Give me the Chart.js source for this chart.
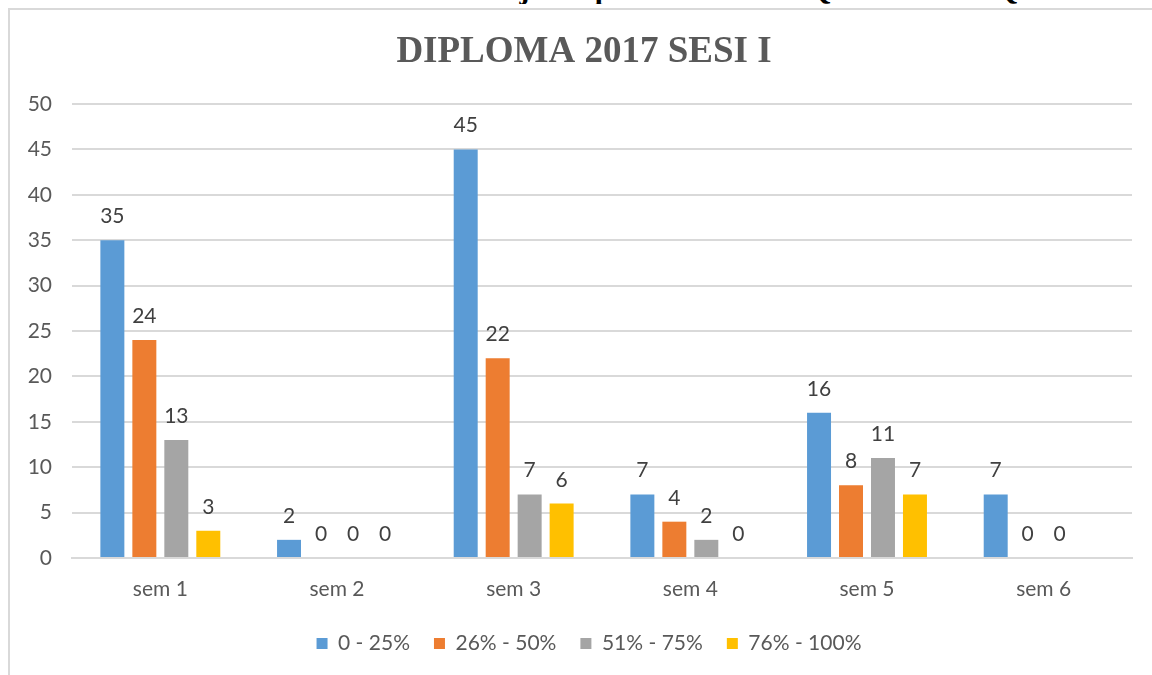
<!DOCTYPE html>
<html>
<head>
<meta charset="utf-8">
<script src="https://cdn.jsdelivr.net/npm/chart.js@4/dist/chart.umd.min.js"></script>
<style>
  html, body { margin:0; padding:0; background:#fff; width:1152px; height:675px; overflow:hidden; }
  #head { position:absolute; left:0; top:0; width:1152px; height:4px; overflow:hidden; }
  #head span { position:absolute; left:100px; top:-28px; white-space:nowrap; font:bold 30px "Liberation Serif", serif; color:#000; }
  #frame { position:absolute; left:8px; top:8px; width:1160px; height:700px; border:2px solid #d9d9d9; box-sizing:border-box; }
  #wrap { position:absolute; left:0; top:0; width:1152px; height:675px; }
</style>
</head>
<body>
<div id="head"><span>Graf Analisis Prestasi Kelas Pelajar Diploma Tahfiz Al-Quran dan Al-Qiraat</span></div>
<div id="frame"></div>
<div id="wrap"><canvas id="c" width="1152" height="675"></canvas></div>
<script>
const categories = ["sem 1", "sem 2", "sem 3", "sem 4", "sem 5", "sem 6"];
const seriesNames = ["0 - 25%", "26% - 50%", "51% - 75%", "76% - 100%"];
const s0to25   = [35, 2, 45, 7, 16, 7];
const s26to50  = [24, 0, 22, 4, 8, 0];
const s51to75  = [13, 0, 7, 2, 11, 0];
const s76to100 = [3, 0, 6, 0, 7, null];
const yTicks = [0, 5, 10, 15, 20, 25, 30, 35, 40, 45, 50];
const chartTitle = "DIPLOMA 2017 SESI I";
const colors = ["#5B9BD5", "#ED7D31", "#A5A5A5", "#FFC000"];

const FONT = "Lato, 'Open Sans', sans-serif";

const valueLabels = {
  id: 'valueLabels',
  afterDatasetsDraw(chart) {
    const ctx = chart.ctx;
    ctx.save();
    ctx.font = "21px " + FONT;
    ctx.fillStyle = "#404040";
    ctx.textAlign = "center";
    ctx.textBaseline = "alphabetic";
    chart.data.datasets.forEach((ds, i) => {
      const meta = chart.getDatasetMeta(i);
      meta.data.forEach((el, j) => {
        const v = ds.data[j];
        if (v === null || v === undefined) return;
        ctx.fillText(String(v), el.x, el.y - 17);
      });
    });
    ctx.restore();
  }
};

// centre the legend and title the way the original spreadsheet chart does
const shiftBlocks = {
  id: 'shiftBlocks',
  afterLayout(chart) {
    if (chart.legend) chart.legend.left += 46;
    if (chart.titleBlock) chart.titleBlock.left += 36;
  }
};

new Chart(document.getElementById('c'), {
  type: 'bar',
  data: {
    labels: categories,
    datasets: [s0to25, s26to50, s51to75, s76to100].map((d, i) => ({
      label: seriesNames[i],
      data: d,
      backgroundColor: colors[i],
      borderWidth: 0,
      categoryPercentage: 0.724,
      barPercentage: 0.75
    }))
  },
  options: {
    responsive: false,
    animation: false,
    layout: { padding: { left: 0, right: 20, top: 0, bottom: 11 } },
    plugins: {
      title: {
        display: true,
        text: chartTitle,
        color: "#595959",
        font: { family: "'Liberation Serif', serif", size: 37, weight: 'bold' },
        padding: { top: 30, bottom: 29.6 }
      },
      legend: {
        position: 'bottom',
        labels: {
          color: "#595959",
          font: { family: FONT, size: 21 },
          boxWidth: 11,
          boxHeight: 11,
          padding: 24
        }
      },
      tooltip: { enabled: false }
    },
    scales: {
      x: {
        afterFit(scale) { scale.height = 51; },
        grid: { display: false, drawTicks: false },
        border: { display: true, color: "#d9d9d9", width: 2 },
        ticks: { color: "#595959", font: { family: FONT, size: 21 }, padding: 19 }
      },
      y: {
        min: 0, max: 50,
        afterBuildTicks(scale) { scale.ticks = yTicks.map(v => ({ value: v })); },
        afterFit(scale) { scale.width = 72; },
        grid: { color: "#d9d9d9", lineWidth: 2, drawTicks: false },
        border: { display: false },
        ticks: { color: "#595959", font: { family: FONT, size: 21 }, padding: 20 }
      }
    }
  },
  plugins: [valueLabels, shiftBlocks]
});
</script>
</body>
</html>
